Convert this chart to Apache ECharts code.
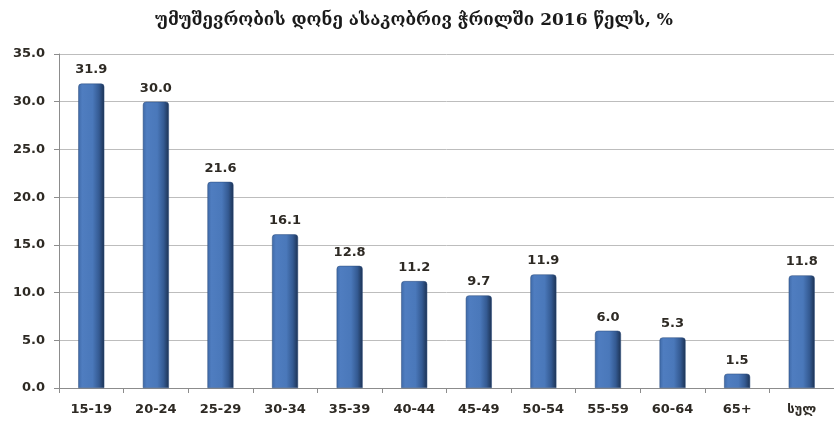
<!DOCTYPE html>
<html><head><meta charset="utf-8">
<script src="https://cdn.jsdelivr.net/npm/echarts@6/dist/echarts.min.js"></script>
<style>html,body{margin:0;padding:0;background:#fff}#c{width:834px;height:424px}</style>
</head><body><div id="c"></div>
<script>
const categories = ['15-19','20-24','25-29','30-34','35-39','40-44','45-49','50-54','55-59','60-64','65+','სულ'];
const values = [31.9,30.0,21.6,16.1,12.8,11.2,9.7,11.9,6.0,5.3,1.5,11.8];
const titleText = 'უმუშევრობის დონე ასაკობრივ ჭრილში 2016 წელს, %';

const chart = echarts.init(document.getElementById('c'));
const barColor = new echarts.graphic.LinearGradient(0,0,1,0,[
  {offset:0,color:'#3f6aa8'},
  {offset:0.15,color:'#4f7dc0'},
  {offset:0.55,color:'#4a78ba'},
  {offset:0.8,color:'#345a92'},
  {offset:1,color:'#1c3253'}
]);
const labelColor = '#2e2a24';
chart.setOption({
  animation:false,
  title:{text:titleText,left:409,textAlign:'center',top:7,
    textStyle:{fontFamily:'DejaVu Serif, DejaVu Sans',fontSize:17,fontWeight:'bold',color:'#1a1a1a'}},
  grid:{left:59,top:54,width:786,height:334},
  xAxis:{type:'category',data:categories,
    axisLine:{lineStyle:{color:'#8c8c8c'}},
    axisTick:{show:true,alignWithLabel:false,length:5,lineStyle:{color:'#8c8c8c'}},
    axisLabel:{color:labelColor,fontWeight:'bold',fontSize:13,fontFamily:'DejaVu Sans',margin:15}},
  yAxis:{type:'value',min:0,max:35,interval:5,
    axisLine:{show:true,lineStyle:{color:'#8c8c8c'}},
    axisTick:{show:true,length:5,lineStyle:{color:'#8c8c8c'}},
    splitLine:{lineStyle:{color:'#bdbdbd'}},
    axisLabel:{formatter:v=>v.toFixed(1),color:labelColor,fontWeight:'bold',fontSize:13,fontFamily:'DejaVu Sans',margin:14}},
  series:[{type:'bar',data:values,barWidth:26,
    itemStyle:{color:barColor,borderColor:'#2a4a7a',borderWidth:0.5,borderRadius:[3,3,0,0]},
    label:{show:true,position:'top',distance:7,formatter:p=>p.value.toFixed(1),color:labelColor,fontWeight:'bold',fontSize:13,fontFamily:'DejaVu Sans'}
  }]
});
</script></body></html>
